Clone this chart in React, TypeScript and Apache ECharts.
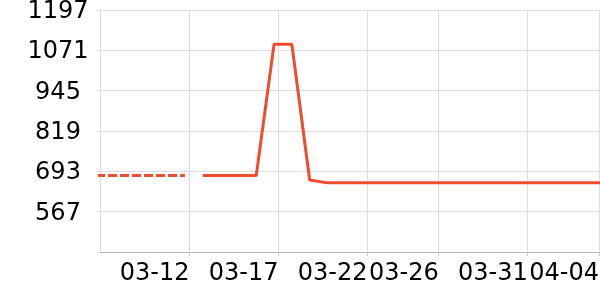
import React, { useEffect, useRef } from "react";
import * as echarts from "echarts";

// ---- data ----
const YEAR = 2024;
const SAMPLE_HOUR = 18; // samples sit ~0.75 day after the day's tick

const DASHED_DAYS = ["03-06", "03-07", "03-08", "03-09", "03-10", "03-11"];
const DASHED_VALUES = [680, 680, 680, 680, 680, 680];

const SOLID_DAYS = [
  "03-12", "03-13", "03-14", "03-15", "03-16", "03-17", "03-18", "03-19",
  "03-20", "03-21", "03-22", "03-23", "03-24", "03-25", "03-26", "03-27",
  "03-28", "03-29", "03-30", "03-31", "04-01", "04-02", "04-03", "04-04",
];
const SOLID_VALUES = [
  680, 680, 680, 680, 1090, 1090, 666, 657,
  657, 657, 657, 657, 657, 657, 657, 657,
  657, 657, 657, 657, 657, 657, 657, 657,
];

const X_TICK_DAYS = ["03-12", "03-17", "03-22", "03-26", "03-31", "04-04"];
const Y_TICKS = [441, 567, 693, 819, 945, 1071, 1197];
const Y_LABELS = [567, 693, 819, 945, 1071, 1197];

const toTs = (md: string, hour = 0, minute = 0) => {
  const [m, d] = md.split("-").map(Number);
  return Date.UTC(YEAR, m - 1, d, hour, minute);
};

const X_MIN = toTs("03-06", 23, 20);
const X_MAX = toTs("04-04", 1, 26);

const pad = (n: number) => (n < 10 ? "0" + n : "" + n);

const LINE_COLOR = "#ef4c2d";
const FONT = "DejaVu Sans";

export default function App() {
  const ref = useRef<HTMLDivElement>(null);

  useEffect(() => {
    if (!ref.current) return;
    const chart = echarts.init(ref.current, undefined, { renderer: "svg" });

    const dashedData = DASHED_DAYS.map((d, i) => [toTs(d, SAMPLE_HOUR), DASHED_VALUES[i]]);
    const solidData = SOLID_DAYS.map((d, i) => [toTs(d, SAMPLE_HOUR), SOLID_VALUES[i]]);
    const xTicks = X_TICK_DAYS.map((d) => toTs(d));

    chart.setOption({
      animation: false,
      textStyle: { fontFamily: FONT },
      grid: {
        left: 100,
        right: 0,
        top: 10,
        bottom: 48,
        containLabel: false,
        outerBoundsMode: "none",
      },
      xAxis: {
        type: "value",
        min: X_MIN,
        max: X_MAX,
        scale: true,
        axisLine: { show: true, lineStyle: { color: "#b4b4b4", width: 1 } },
        axisTick: {
          show: true,
          length: 4,
          customValues: xTicks,
          lineStyle: { color: "#cccccc" },
        },
        splitLine: { show: true, lineStyle: { color: "#dddddd", width: 1 } },
        axisLabel: {
          customValues: xTicks,
          align: "right",
          margin: 8,
          fontSize: 24,
          fontFamily: FONT,
          color: "#000",
          hideOverlap: false,
          formatter: (v: number) => {
            const d = new Date(v);
            return pad(d.getUTCMonth() + 1) + "-" + pad(d.getUTCDate());
          },
        },
      },
      yAxis: {
        type: "value",
        min: Y_TICKS[0],
        max: Y_TICKS[Y_TICKS.length - 1],
        axisLine: { show: true, lineStyle: { color: "#dddddd", width: 1 } },
        axisTick: {
          show: true,
          length: 3,
          customValues: Y_TICKS,
          lineStyle: { color: "#dddddd" },
        },
        splitLine: { show: true, lineStyle: { color: "#dddddd", width: 1 } },
        axisLabel: {
          customValues: Y_LABELS,
          align: "center",
          margin: 42,
          fontSize: 24,
          fontFamily: FONT,
          color: "#000",
          hideOverlap: false,
          formatter: (v: number) => String(Math.round(v)),
        },
      },
      series: [
        {
          type: "line",
          data: dashedData,
          showSymbol: false,
          symbol: "none",
          clip: true,
          lineStyle: { color: LINE_COLOR, width: 3, type: [9, 3] },
          itemStyle: { color: LINE_COLOR },
        },
        {
          type: "line",
          data: solidData,
          showSymbol: false,
          symbol: "none",
          clip: true,
          lineStyle: { color: LINE_COLOR, width: 3 },
          itemStyle: { color: LINE_COLOR },
        },
      ],
    });

    return () => chart.dispose();
  }, []);

  return (
    <div
      ref={ref}
      style={{ position: "fixed", left: 0, top: 0, width: 600, height: 300 }}
    />
  );
}
